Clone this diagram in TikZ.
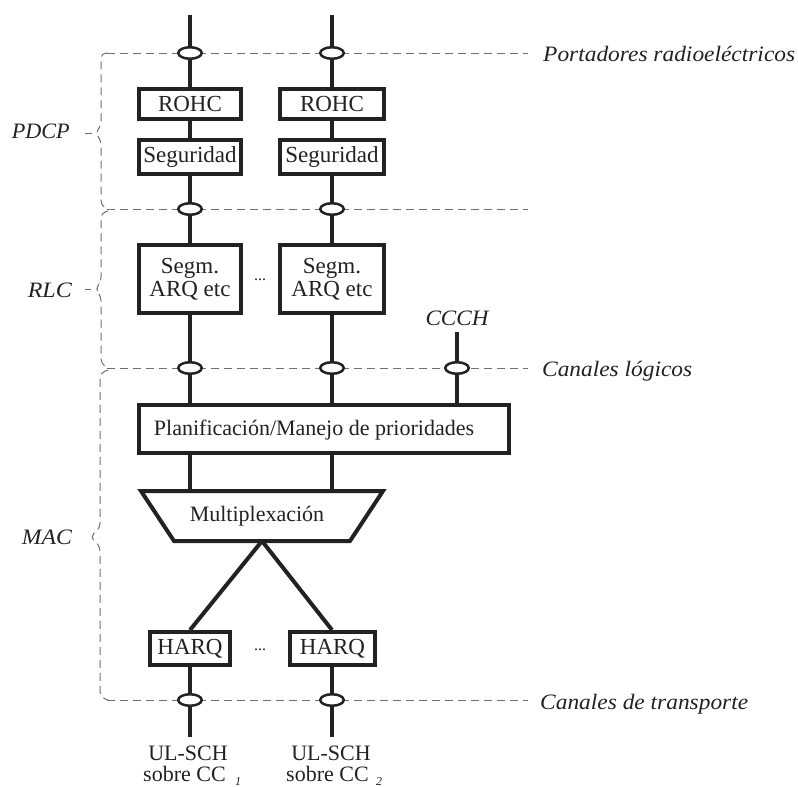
\documentclass[tikz,border=0pt]{standalone}
\usepackage{fontspec}
\usepackage{graphicx}
\setmainfont{Liberation Serif}
\usetikzlibrary{shapes.geometric,backgrounds}
\definecolor{ink}{HTML}{222222}
\definecolor{guidegray}{HTML}{707070}
\newcommand{\fitw}[2]{\resizebox{#1}{\height}{#2}}
\begin{document}
\begin{tikzpicture}[x=1pt,y=-1pt,
  box/.style={draw=ink,line width=4pt,inner sep=0pt,fill=white,text=ink,font=\fontsize{23}{23}\selectfont,align=center},
  port/.style={draw=ink,line width=2.5pt,ellipse,minimum width=23.5pt,minimum height=11.5pt,inner sep=0pt,fill=white},
  link/.style={draw=ink,line width=4pt},
  guide/.style={draw=guidegray,line width=1pt,dash pattern=on 8pt off 5pt},
  lab/.style={font=\itshape\fontsize{22}{24}\selectfont,text=ink,inner sep=0pt},
  txt/.style={font=\fontsize{22}{24}\selectfont,text=ink,inner sep=0pt}]
\useasboundingbox (0,0) rectangle (798,787);

% ports (ellipses)
\node[port] (p1a) at (190,53) {};
\node[port] (p2a) at (332,53) {};
\node[port] (p1b) at (190,209) {};
\node[port] (p2b) at (332,209) {};
\node[port] (p1c) at (190,368) {};
\node[port] (p2c) at (332,368) {};
\node[port] (p3c) at (457,368) {};
\node[port] (p1d) at (190,700) {};
\node[port] (p2d) at (332,700) {};

% boxes
\node[box,minimum width=102pt,minimum height=30pt] (rohc1) at (190,104) {ROHC};
\node[box,minimum width=104pt,minimum height=30pt] (rohc2) at (332,104) {ROHC};
\node[box,minimum width=102pt,minimum height=34pt] (seg1) at (190,157) {Seguridad};
\node[box,minimum width=104pt,minimum height=34pt] (seg2) at (332,157) {Seguridad};
\node[box,minimum width=102pt,minimum height=68pt] (segm1) at (190,279) {Segm.\\ARQ etc};
\node[box,minimum width=104pt,minimum height=68pt] (segm2) at (332,279) {Segm.\\ARQ etc};
\node[txt,font=\fontsize{16}{18}\selectfont] (dots1) at (260,280) {...};
\node[box,minimum width=370pt,minimum height=48pt] (plan) at (324,429) {};
\node[txt] (plantxt) at (314,430) {Planificación/Manejo de prioridades};
\node[box,minimum width=80pt,minimum height=33pt] (harq1) at (190,648.5) {HARQ};
\node[box,minimum width=85pt,minimum height=33pt] (harq2) at (332.5,648.5) {HARQ};
\node[txt,font=\fontsize{16}{18}\selectfont] (dots2) at (260,650) {...};

% multiplexer trapezoid
\coordinate (mtl) at (141,491);
\coordinate (mtr) at (383,491);
\coordinate (mbr) at (350,541);
\coordinate (mbl) at (174,541);
\coordinate (mbc) at (262,541);
\draw[link,line join=miter] (mtl) -- (mtr) -- (mbr) -- (mbl) -- cycle;
\node[txt] (mux) at (257,516) {Multiplexación};

% free ends
\coordinate (t1) at (190,15);
\coordinate (t2) at (332,15);
\coordinate (b1) at (190,737);
\coordinate (b2) at (332,737);
\coordinate (t3) at (457,332);

% connectors
\draw[link] (t1) -- (p1a);
\draw[link] (t2) -- (p2a);
\draw[link] (p1a) -- (rohc1);
\draw[link] (p2a) -- (rohc2);
\draw[link] (rohc1) -- (seg1);
\draw[link] (rohc2) -- (seg2);
\draw[link] (seg1) -- (p1b);
\draw[link] (seg2) -- (p2b);
\draw[link] (p1b) -- (segm1);
\draw[link] (p2b) -- (segm2);
\draw[link] (segm1) -- (p1c);
\draw[link] (segm2) -- (p2c);
\draw[link] (t3) -- (p3c);
\draw[link] (p1c) -- (p1c |- plan.north);
\draw[link] (p2c) -- (p2c |- plan.north);
\draw[link] (p3c) -- (p3c |- plan.north);
\draw[link] (plan.south -| p1c) -- (p1c |- mtl);
\draw[link] (plan.south -| p2c) -- (p2c |- mtl);
\draw[link] (mbc) -- (harq1.north);
\draw[link] (mbc) -- (harq2.north -| p2d);
\draw[link] (harq1) -- (p1d);
\draw[link] (harq2.south -| p2d) -- (p2d);
\draw[link] (p1d) -- (b1);
\draw[link] (p2d) -- (b2);

% dashed guides and braces (behind)
\begin{scope}[on background layer]
  \draw[guide] (107,53) -- (528,53);
  \draw[guide] (107,209) -- (528,209);
  \draw[guide] (107,368) -- (528,368);
  \draw[guide] (107,700) -- (528,700);
  \draw[guide,rounded corners=5pt] (108,53) -- (101,53) -- (101,126) -- (95,133) -- (101,140) -- (101,206) -- (108,209);
  \draw[guide,rounded corners=5pt] (108,211) -- (101,213) -- (101,282) -- (95,289) -- (101,296) -- (101,364) -- (108,368);
  \draw[guide,rounded corners=5pt] (108,370) -- (100,373) -- (100,528) -- (90,537) -- (100,546) -- (100,697) -- (108,700);
\end{scope}
\draw[guidegray,line width=1pt] (85,133) -- (92,133);
\draw[guidegray,line width=1pt] (85,289) -- (91,289);

% labels
\node[lab,anchor=base west] (lport) at (543,61) {\fitw{252pt}{Portadores radioeléctricos}};
\node[lab,anchor=base west] (llog) at (542,376) {\fitw{150pt}{Canales lógicos}};
\node[lab,anchor=base west] (ltrans) at (540,709) {\fitw{208pt}{Canales de transporte}};
\node[lab,anchor=base east] (lpdcp) at (70,138) {\fitw{58pt}{PDCP}};
\node[lab,anchor=base east] (lrlc) at (72,297) {\fitw{44pt}{RLC}};
\node[lab,anchor=base east] (lmac) at (72,544) {\fitw{50pt}{MAC}};
\node[lab,anchor=base] (lccch) at (457,325) {\fitw{63pt}{CCCH}};

\node[txt,anchor=base] (ul1) at (188,760) {UL-SCH};
\node[txt,anchor=base] (ul2) at (331,760) {UL-SCH};
\node[txt,anchor=base west] (so1) at (143,781) {sobre CC};
\node[txt,anchor=base west] (so2) at (286,781) {sobre CC};
\node[txt,anchor=base west,font=\itshape\fontsize{12}{13}\selectfont] (sub1) at (235,785) {1};
\node[txt,anchor=base west,font=\itshape\fontsize{12}{13}\selectfont] (sub2) at (376,785) {2};
\end{tikzpicture}
\end{document}
